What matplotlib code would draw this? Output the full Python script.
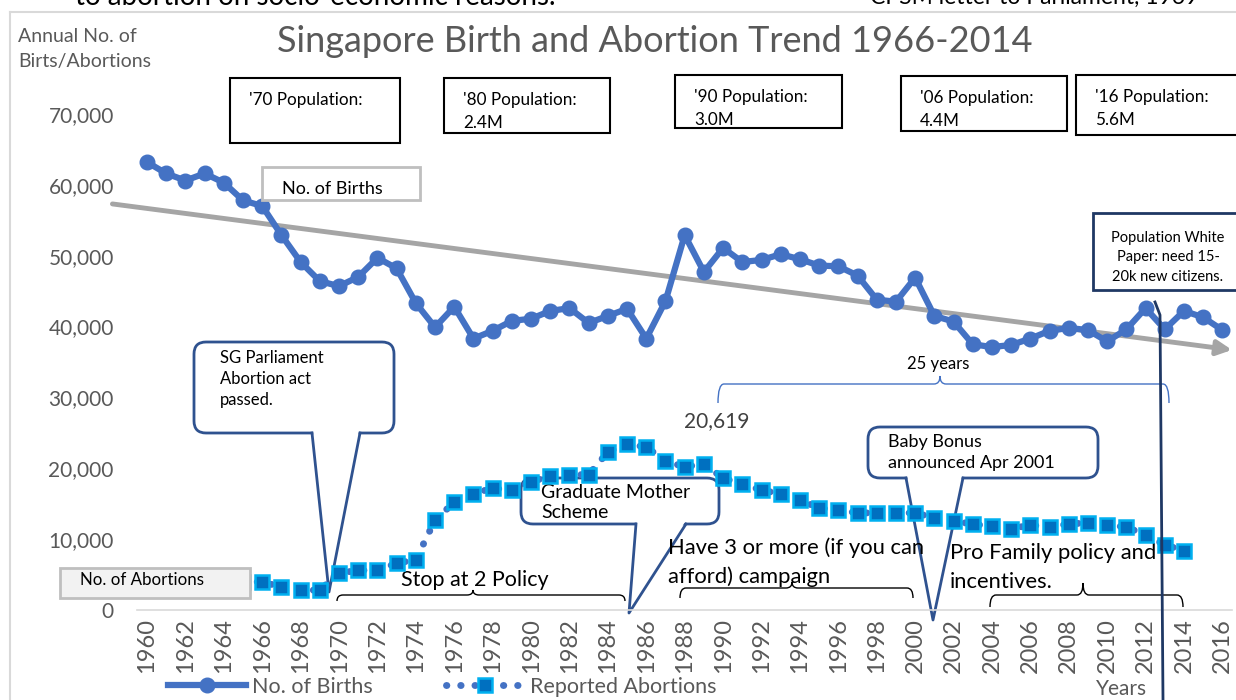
import numpy as np
import matplotlib
matplotlib.use('Agg')
import matplotlib.pyplot as plt
import matplotlib.transforms as mtransforms
from matplotlib.patches import FancyBboxPatch, Rectangle, Polygon, PathPatch
from matplotlib.path import Path
from matplotlib.lines import Line2D
from matplotlib.ticker import FuncFormatter

plt.rcParams['font.family'] = ['Lato', 'DejaVu Sans']

# data
years = list(range(1960, 2017))
births = [63200, 61600, 60600, 61600, 60300, 57800, 57000, 52900, 49100, 46400,
          45700, 47000, 49700, 48200, 43300, 39900, 42800, 38300, 39400, 40800,
          41100, 42200, 42600, 40500, 41500, 42500, 38300, 43600, 52900, 47700,
          51100, 49100, 49400, 50200, 49500, 48600, 48500, 47200, 43800, 43500,
          46900, 41500, 40700, 37500, 37100, 37400, 38300, 39400, 39800, 39500,
          37900, 39600, 42600, 39600, 42200, 41300, 39500]
abortion_years = list(range(1965, 2015))
abortions = [4000, 3950, 3250, 2800, 2800, 5200, 5600, 5600, 6600, 7100,
             12700, 15200, 16400, 17200, 16900, 18100, 18900, 19100, 19100, 22300,
             23400, 23000, 21000, 20200, 20619, 18600, 17800, 16900, 16400, 15500,
             14400, 14100, 13700, 13700, 13700, 13700, 13000, 12600, 12100, 11850,
             11450, 12000, 11700, 12150, 12300, 12000, 11700, 10600, 9200, 8350]
trend_years = [1958.2, 2016.5]
trend_vals = [57300, 36700]
tick_years = list(range(1960, 2017, 2))
y_ticks = list(range(0, 70001, 10000))

BLUE = '#4472C4'
NAVY = '#2F528F'
GREY = '#595959'

W, H = 1236, 700
fig = plt.figure(figsize=(W / 100, H / 100), dpi=100)
ax = fig.add_axes([137.4 / W, (H - 610) / H, (1232 - 137.4) / W, (610 - 78.5) / H])
# pixel transform (origin top-left) for the slide furniture
px = mtransforms.Affine2D().scale(1 / W, -1 / H).translate(0, 1) + fig.transFigure

ax.plot(years, births, color=BLUE, lw=4.5, marker='o', ms=10.5, zorder=4,
        label='No. of Births')
ax.plot(abortion_years, abortions, color=BLUE, lw=5, linestyle=(0, (0.05, 2.0)),
        dash_capstyle='round', marker='s', ms=10, mfc='#0070C0', mec='#00B0F0',
        mew=1.8, zorder=4, label='Reported Abortions')

ax.annotate('', xy=(trend_years[1], trend_vals[1]), xytext=(trend_years[0], trend_vals[0]),
            xycoords='data', annotation_clip=False, zorder=3,
            arrowprops=dict(arrowstyle='-|>', color='#A5A5A5', lw=3.5, mutation_scale=22,
                            shrinkA=0, shrinkB=0))

ax.set_xlim(1959.5, 2016.5)
ax.set_ylim(0, 75000)
ax.set_xticks(tick_years)
ax.set_xticklabels([str(y) for y in tick_years], rotation=90)
ax.set_yticks(y_ticks)
ax.yaxis.set_major_formatter(FuncFormatter(lambda v, p: '{:,.0f}'.format(v)))
ax.tick_params(axis='both', length=0, labelcolor=GREY)
ax.tick_params(axis='y', pad=17, labelsize=15)
ax.tick_params(axis='x', pad=6, labelsize=17)
for s in ['top', 'right', 'left']:
    ax.spines[s].set_visible(False)
ax.spines['bottom'].set_color('#D9D9D9')
ax.spines['bottom'].set_linewidth(1.2)
ax.patch.set_alpha(0)


def T(x, y, s, **kw):
    kw.setdefault('va', 'center')
    kw.setdefault('ha', 'left')
    ax.text(x, y, s, transform=px, clip_on=False, **kw)


def box(x0, y0, x1, y1, ec='black', fc='white', lw=1.5, z=5):
    ax.add_patch(Rectangle((x0, y0), x1 - x0, y1 - y0, transform=px, clip_on=False,
                           ec=ec, fc=fc, lw=lw, zorder=z))


def callout(x0, y0, x1, y1, xa, xb, tip, z=2):
    ax.add_patch(FancyBboxPatch((x0, y0), x1 - x0, y1 - y0,
                                boxstyle='round,pad=0,rounding_size=12', transform=px,
                                clip_on=False, ec=NAVY, fc='white', lw=2, zorder=z))
    ax.add_patch(Polygon([(xa + 1, y1 - 2), tip, (xb - 1, y1 - 2)], closed=True,
                         transform=px, clip_on=False, fc='white', ec='none', zorder=z + 0.1))
    ax.add_line(Line2D([xa, tip[0], xb], [y1, tip[1], y1], transform=px, clip_on=False,
                       color=NAVY, lw=2, zorder=z + 0.2))


def brace(x0, x1, xm, y, yend, ytip, color='black', lw=1.0, z=3):
    r = 6
    verts = [(x0, yend), (x0, y), (x0 + r, y), (xm - r, y), (xm, y), (xm, ytip),
             (xm, y), (xm + r, y), (x1 - r, y), (x1, y), (x1, yend)]
    codes = [Path.MOVETO, Path.CURVE3, Path.CURVE3, Path.LINETO, Path.CURVE3, Path.CURVE3,
             Path.CURVE3, Path.CURVE3, Path.LINETO, Path.CURVE3, Path.CURVE3]
    ax.add_patch(PathPatch(Path(verts, codes), transform=px, clip_on=False, fc='none',
                           ec=color, lw=lw, zorder=z))


# chart border and cut-off slide text
ax.add_line(Line2D([10, W], [12, 12], transform=px, clip_on=False, color='#D9D9D9', lw=1.5))
ax.add_line(Line2D([10, 10], [12, H], transform=px, clip_on=False, color='#D9D9D9', lw=1.5))
T(75, 5, 'to abortion on socio-economic reasons.', fontsize=20, va='baseline', color='black')
T(870, 4, 'CPSM letter to Parliament, 1969', fontsize=16.5, va='baseline', color='black')

T(655, 42, 'Singapore Birth and Abortion Trend 1966-2014', ha='center', fontsize=26, color=GREY)
T(18, 36, 'Annual No. of', fontsize=14, color=GREY)
T(18, 62, 'Birts/Abortions', fontsize=14, color=GREY)

# population boxes
pops = [(230, 78, 400, 143, ["'70 Population:"]),
        (444, 78, 610, 133, ["'80 Population:", '2.4M']),
        (675, 75, 842, 128, ["'90 Population:", '3.0M']),
        (901, 76, 1067, 131, ["'06 Population:", '4.4M']),
        (1076, 75, 1245, 135, ["'16 Population:", '5.6M'])]
for x0, y0, x1, y1, lines in pops:
    box(x0, y0, x1, y1)
    for i, s in enumerate(lines):
        T(x0 + 19, y0 + 22 + i * 23, s, fontsize=12.3, zorder=6)

box(262, 167, 420, 200, ec='#BFBFBF', lw=2, z=5)
T(282, 189, 'No. of Births', fontsize=13, zorder=6)
box(60, 568, 250, 598, ec='#BFBFBF', fc='#F2F2F2', lw=2, z=6)
T(80, 580, 'No. of Abortions', fontsize=12.2, zorder=7)

# callouts
callout(194, 342, 394, 433, 312, 360, (329, 592))
T(220, 358, 'SG Parliament', fontsize=12, zorder=3)
T(220, 379, 'Abortion act', fontsize=12, zorder=3)
T(220, 400, 'passed.', fontsize=12, zorder=3)

callout(521, 478, 719, 524, 636, 686, (629, 613))
T(541, 492, 'Graduate Mother', fontsize=14, zorder=3)
T(541, 513, 'Scheme', fontsize=14, zorder=3)

callout(868, 427, 1098, 478, 906, 963, (933, 620))
T(888, 442, 'Baby Bonus', fontsize=13, zorder=3)
T(888, 463, 'announced Apr 2001', fontsize=13, zorder=3)

box(1093, 213, 1245, 290, ec='#1F3864', lw=2, z=5)
for i, s in enumerate(['Population White', 'Paper: need 15-', '20k new citizens.']):
    T(1168, 238 + i * 19.5, s, ha='center', fontsize=10.5, zorder=6)
ax.add_line(Line2D([1155, 1160, 1163], [302, 315, 700], transform=px, clip_on=False,
                   color='#1F3864', lw=2, zorder=6))

# braces and policy labels
brace(718, 1169, 940, 384, 403, 376, color=BLUE)
T(938, 364, '25 years', ha='center', fontsize=12)
T(717, 421, '20,619', ha='center', fontsize=15, color='#404040')

brace(337, 625, 473, 595, 601, 590)
T(401, 580, 'Stop at 2 Policy', fontsize=15.5)
brace(680, 913, 792, 588, 598, 582)
T(668, 548, 'Have 3 or more (if you can', fontsize=15.8)
T(668, 577, 'afford) campaign', fontsize=15.8)
brace(990, 1183, 1083, 595, 607, 583)
T(950, 553, 'Pro Family policy and', fontsize=15.8)
T(950, 582, 'incentives.', fontsize=15.8)

T(1122, 689, 'Years', ha='center', fontsize=15, color=GREY)

h, l = ax.get_legend_handles_labels()
fig.legend(h, l, loc='center left', bbox_to_anchor=(168 / W, 1 - 687 / H), ncol=2,
           frameon=False, fontsize=15.5, labelcolor=GREY, handlelength=3.6,
           handletextpad=0.3, columnspacing=3.4, borderpad=0, borderaxespad=0)

fig.savefig('out.png', dpi=100)
